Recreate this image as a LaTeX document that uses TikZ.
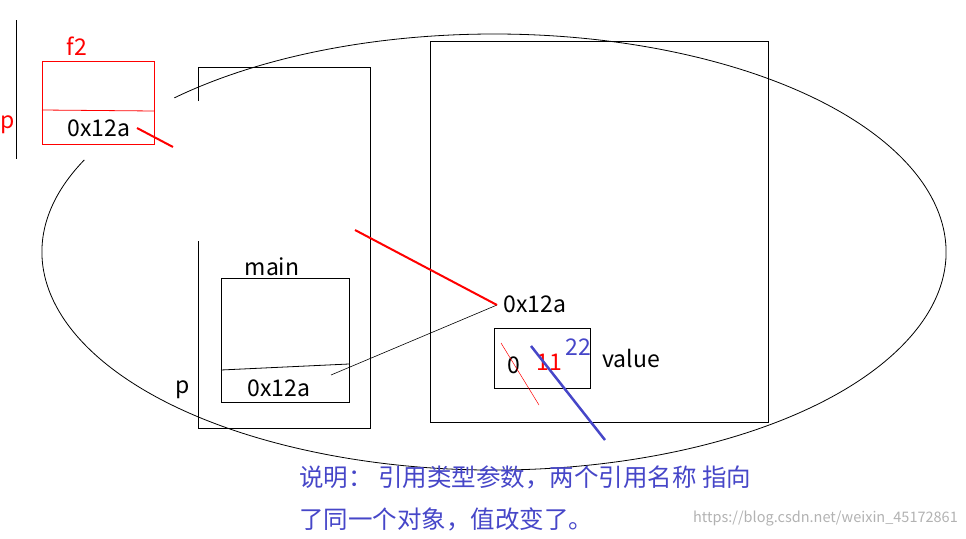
\documentclass[tikz,border=0pt]{standalone}
\usepackage{fontspec}
\setmainfont{Noto Sans CJK SC}
\begin{document}
\begin{tikzpicture}[x=1pt,y=-1pt,
  lbl/.style={inner sep=0pt,font=\fontsize{23}{26}\selectfont},
  cjk/.style={inner sep=0pt,font=\fontsize{24.5}{27}\selectfont},
  blu/.style={color={rgb,255:red,70;green,70;blue,200}}]
\useasboundingbox (0,0) rectangle (966,538);
\draw[line width=0.8pt] (494,252) ++(155:452 and -218) arc[start angle=155,end angle=495,x radius=452,y radius=-218];
% main frame
\draw[line width=0.8pt] (198,101)--(198,67)--(370,67)--(370,428)--(198,428)--(198,241);
\draw[line width=0.8pt] (430,41) rectangle (768,422);
\draw[line width=0.8pt] (221,278) rectangle (349,402);
\draw[line width=0.8pt] (221,370)--(349,364);
\node[lbl] (main) at (272,267) {main};
\node[lbl] (p1) at (183,390) {p};
\node[lbl] (a1) at (279,388) {0x12a};
\node[lbl] (a2) at (535,304) {0x12a};
\coordinate (s1) at (331,375);
\coordinate (e1) at (497,305);
\draw[line width=0.6pt] (s1)--(e1);
\coordinate (r1) at (355,230);
\draw[red,line width=2pt] (r1)--(e1);
% value box
\draw[line width=0.8pt] (494,328) rectangle (590,388);
\node[lbl] (z) at (514,365) {0};
\node[lbl,red] (v11) at (549,362) {11};
\node[lbl,blu] (v22) at (578,347) {22};
\node[lbl] (val) at (631,358) {value};
\draw[red,line width=0.5pt] (501,343)--(539,405);
\draw[blu,line width=2.5pt] (531,346)--(605,440);
% f2
\draw[red,line width=0.8pt] (42,61) rectangle (154,144);
\draw[red,line width=0.8pt] (42,110)--(154,111);
\node[lbl,red] (f2) at (77,46) {f2};
\node[lbl,red] (p2) at (8,125) {p};
\draw[line width=0.8pt] (16,20)--(16,159);
\node[lbl] (a3) at (99,128) {0x12a};
\draw[red,line width=2pt] (137,128)--(173,147);
% text
\node[cjk,blu,anchor=west] (t1) at (299,477) {说明： 引用类型参数，两个引用名称 指向};
\node[cjk,blu,anchor=west] (t2) at (299,519) {了同一个对象，值改变了。};
\node[inner sep=0pt,anchor=east,gray!60,font=\fontsize{14.5}{16}\selectfont] (wm) at (958,519) {https://blog.csdn.net/weixin\_45172861};
\end{tikzpicture}
\end{document}
